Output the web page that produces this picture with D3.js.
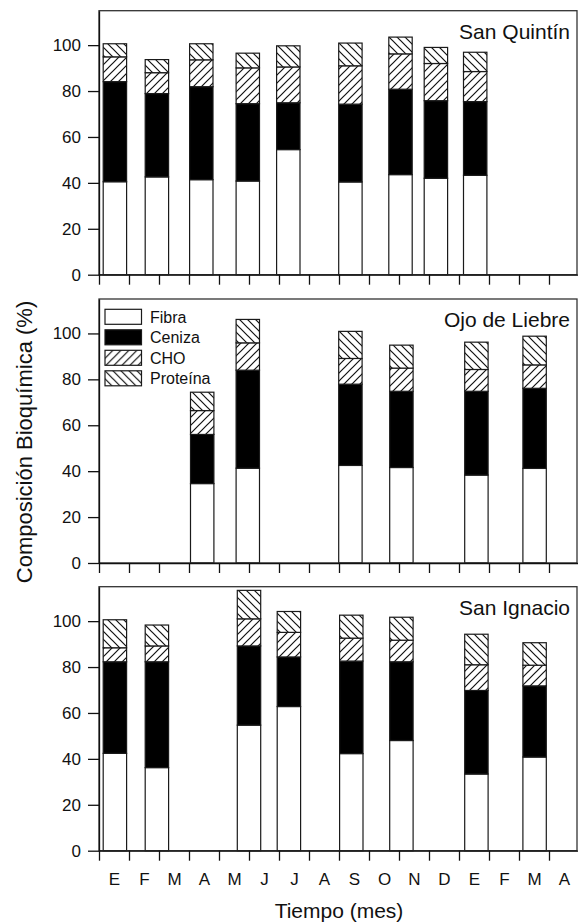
<!DOCTYPE html>
<html>
<head>
<meta charset="utf-8">
<script src="https://cdn.jsdelivr.net/npm/d3@7"></script>
<style>
  body { margin: 0; background: #fff; }
  svg { display: block; font-family: "Liberation Sans", Arial, sans-serif; }
</style>
</head>
<body>
<svg id="chart" width="578" height="923"></svg>
<script>
// month labels on the time axis (Jan .. Apr of the next year)
const months = ['E', 'F', 'M', 'A', 'M', 'J', 'J', 'A', 'S', 'O', 'N', 'D', 'E', 'F', 'M', 'A'];
const yTicks = [0, 20, 40, 60, 80, 100];
const components = ['Fibra', 'Ceniza', 'CHO', 'Proteína'];
const sites = ['San Quintín', 'Ojo de Liebre', 'San Ignacio'];

// sampling time, in months from the start of January
const sqMonth = [0.53, 1.93, 3.41, 4.96, 6.31, 8.38, 10.05, 11.23, 12.54];
const sqFibra = [40.5, 42.6, 41.4, 40.8, 54.5, 40.4, 43.6, 42.0, 43.3];
const sqCeniza = [43.6, 36.3, 40.5, 33.7, 20.4, 33.9, 37.2, 33.8, 32.1];
const sqCho = [10.8, 9.1, 11.7, 15.6, 15.6, 16.7, 15.4, 16.2, 13.1];
const sqProteina = [5.7, 5.7, 7.0, 6.4, 9.2, 9.9, 7.3, 7.0, 8.4];

const olMonth = [3.44, 4.96, 8.38, 10.08, 12.58, 14.52];
const olFibra = [34.6, 41.3, 42.5, 41.6, 38.3, 41.2];
const olCeniza = [21.4, 42.7, 35.4, 33.2, 36.5, 34.9];
const olCho = [10.4, 11.9, 11.2, 10.1, 9.5, 10.2];
const olProteina = [8.0, 10.2, 11.8, 10.0, 11.9, 12.5];

const siMonth = [0.53, 1.93, 5.0, 6.33, 8.41, 10.08, 12.58, 14.52];
const siFibra = [42.4, 36.2, 54.7, 62.8, 42.3, 48.0, 33.4, 40.8];
const siCeniza = [39.9, 46.1, 34.5, 21.6, 40.3, 34.3, 36.4, 31.0];
const siCho = [6.1, 6.9, 11.8, 10.7, 10.0, 9.4, 11.2, 9.0];
const siProteina = [12.2, 9.1, 12.4, 9.1, 10.0, 10.0, 13.3, 9.8];

const panels = [
    { site: sites[0], month: sqMonth, values: [sqFibra, sqCeniza, sqCho, sqProteina] },
    { site: sites[1], month: olMonth, values: [olFibra, olCeniza, olCho, olProteina] },
    { site: sites[2], month: siMonth, values: [siFibra, siCeniza, siCho, siProteina] },
];

const svg = d3.select('#chart');
const left = 99, right = 579, frameRight = 577;
const panelTops = [10.7, 299, 586.7];
const panelHeight = 264;
const barSpan = 0.78; // bar width in months

// hatch patterns
const defs = svg.append('defs');
function hatch(id, d) {
    defs.append('pattern')
        .attr('id', id)
        .attr('patternUnits', 'userSpaceOnUse')
        .attr('width', 8).attr('height', 8)
        .call(p => p.append('rect').attr('width', 8).attr('height', 8).attr('fill', '#fff'))
        .append('path')
        .attr('d', d)
        .attr('stroke', '#111')
        .attr('stroke-width', 1.2)
        .attr('fill', 'none');
}
hatch('hatch-cho', 'M-2,2L2,-2M0,8L8,0M6,10L10,6');
hatch('hatch-prot', 'M-2,6L2,10M0,0L8,8M6,-2L10,2');

const fills = {
    'Fibra': '#fff',
    'Ceniza': '#000',
    'CHO': 'url(#hatch-cho)',
    'Proteína': 'url(#hatch-prot)',
};

const x = d3.scaleLinear().domain([0, months.length]).range([left, right]);

panels.forEach((panel, pi) => {
    const top = panelTops[pi];
    const bottom = top + panelHeight;
    const y = d3.scaleLinear().domain([0, 115]).range([bottom, top]);

    const rows = panel.month.map((m, i) => {
        const row = { month: m };
        components.forEach((c, k) => row[c] = panel.values[k][i]);
        return row;
    });
    const series = d3.stack().keys(components)(rows);

    const g = svg.append('g');

    // bars
    g.selectAll('.layer')
        .data(series)
        .enter().append('g')
        .attr('class', 'layer')
        .attr('fill', d => fills[d.key])
        .selectAll('rect')
        .data(d => d)
        .enter().append('rect')
        .attr('x', d => x(d.data.month - barSpan / 2))
        .attr('width', d => x(d.data.month + barSpan / 2) - x(d.data.month - barSpan / 2))
        .attr('y', d => y(d[1]))
        .attr('height', d => y(d[0]) - y(d[1]))
        .attr('stroke', '#1a1a1a')
        .attr('stroke-width', 1.2);

    // frame
    g.append('rect')
        .attr('x', left)
        .attr('y', top)
        .attr('width', frameRight - left)
        .attr('height', panelHeight)
        .attr('fill', 'none')
        .attr('stroke', '#333')
        .attr('stroke-width', 1.3);

    // x axis (ticks only on month boundaries)
    g.append('g')
        .attr('transform', `translate(0,${bottom})`)
        .call(d3.axisBottom(x).tickValues(d3.range(months.length + 1)).tickSize(10).tickSizeOuter(0).tickFormat(''))
        .call(a => a.selectAll('line, path').attr('stroke', '#111').attr('stroke-width', 1.3));

    // y axis
    g.append('g')
        .attr('transform', `translate(${left},0)`)
        .call(d3.axisLeft(y).tickValues(yTicks).tickSize(11).tickSizeOuter(0).tickPadding(7))
        .call(a => a.selectAll('line, path').attr('stroke', '#111').attr('stroke-width', 1.3))
        .call(a => a.selectAll('text').attr('font-size', 17).attr('font-family', 'Liberation Sans, Arial, sans-serif').attr('fill', '#111'));

    // site name
    g.append('text')
        .attr('x', 570)
        .attr('y', top + 28)
        .attr('text-anchor', 'end')
        .attr('font-size', 21)
        .attr('fill', '#111')
        .text(panel.site);

    // month labels on the last panel
    if (pi === panels.length - 1) {
        g.append('g')
            .attr('transform', `translate(0,${bottom})`)
            .call(d3.axisBottom(x).tickValues(d3.range(months.length).map(i => i + 0.5))
                .tickSize(0).tickPadding(22).tickFormat((d, i) => months[i]))
            .call(a => a.select('.domain').remove())
            .call(a => a.selectAll('text').attr('font-size', 17).attr('font-family', 'Liberation Sans, Arial, sans-serif').attr('fill', '#111'));
    }

    // legend in the middle panel
    if (pi === 1) {
        const lg = g.append('g').attr('transform', `translate(105,${top + 10.3})`);
        const item = lg.selectAll('g')
            .data(components)
            .enter().append('g')
            .attr('transform', (d, i) => `translate(0,${i * 20.5})`);
        item.append('rect')
            .attr('width', 36.5)
            .attr('height', 15)
            .attr('fill', d => fills[d])
            .attr('stroke', '#1a1a1a')
            .attr('stroke-width', 1.2);
        item.append('text')
            .attr('x', 45)
            .attr('y', 13.5)
            .attr('font-size', 16)
            .attr('fill', '#111')
            .text(d => d);
    }
});

// axis titles
svg.append('text')
    .attr('transform', `translate(32,442) rotate(-90)`)
    .attr('text-anchor', 'middle')
    .attr('font-size', 22)
    .attr('fill', '#111')
    .text('Composición Bioquímica (%)');

svg.append('text')
    .attr('x', (left + right) / 2)
    .attr('y', 918)
    .attr('text-anchor', 'middle')
    .attr('font-size', 21)
    .attr('fill', '#111')
    .text('Tiempo (mes)');
</script>
</body>
</html>
